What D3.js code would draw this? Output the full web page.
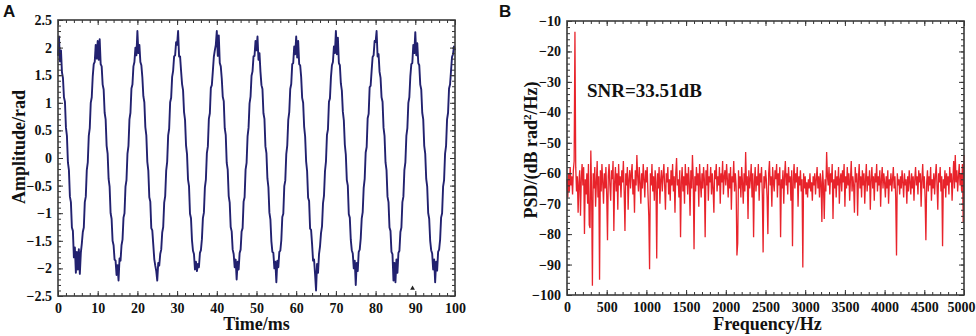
<!DOCTYPE html>
<html>
<head>
<meta charset="utf-8">
<script src="https://cdn.jsdelivr.net/npm/d3@7"></script>
<style>
    body { margin: 0; background: #fff; }
    svg text { font-family: "Liberation Serif", "Times New Roman", serif; font-weight: bold; fill: #111; }
    .panelLetter { font-family: "Liberation Sans", Arial, sans-serif; }
</style>
</head>
<body>
<div id="chart"></div>
<script>
// sample spacing of the two records
var timeStep = 0.25;   // ms
var freqStep = 10;     // Hz

// phase amplitude (rad), one value every 0.25 ms, 0..100 ms
var amplitude = [
    1.85, 2.20, 1.75, 1.95, 1.55, 1.45, 1.10, 1.02, 0.55, 0.40, -0.08, -0.22, -0.70, -0.80, -1.26, -1.32, -1.80, -1.62, -2.08, -1.70,
    -2.02, -1.65, -2.10, -1.72, -1.55, -1.34, -1.26, -0.80, -0.70, -0.22, -0.08, 0.40, 0.54, 1.00, 1.10, 1.48, 1.70, 1.74, 2.05, 1.80,
    2.12, 1.78, 2.15, 1.70, 1.66, 1.33, 1.24, 0.82, 0.70, 0.22, 0.08, -0.38, -0.52, -1.00, -1.10, -1.50, -1.58, -1.84, -1.86, -2.12,
    -1.94, -2.22, -1.82, -1.86, -1.58, -1.48, -1.08, -1.00, -0.52, -0.40, 0.08, 0.22, 0.70, 0.82, 1.26, 1.33, 1.66, 1.74, 2.00, 1.86,
    2.30, 1.90, 2.05, 1.74, 1.68, 1.46, 1.12, 1.01, 0.56, 0.41, -0.07, -0.23, -0.71, -0.79, -1.27, -1.31, -1.57, -1.83, -1.95, -2.05,
    -2.22, -1.90, -1.95, -1.74, -1.66, -1.35, -1.25, -0.81, -0.69, -0.23, -0.07, 0.41, 0.53, 1.01, 1.09, 1.47, 1.58, 1.84, 1.86, 2.10,
    2.05, 2.30, 1.84, 1.84, 1.58, 1.34, 1.23, 0.83, 0.69, 0.23, 0.07, -0.39, -0.51, -1.01, -1.09, -1.49, -1.68, -1.74, -2.02, -1.88,
    -2.05, -1.92, -1.98, -1.72, -1.67, -1.47, -1.09, -0.99, -0.53, -0.39, 0.09, 0.21, 0.71, 0.81, 1.27, 1.32, 1.57, 1.83, 1.95, 2.05,
    2.30, 1.85, 2.22, 1.72, 1.66, 1.44, 1.11, 1.03, 0.54, 0.42, -0.09, -0.21, -0.69, -0.81, -1.25, -1.33, -1.66, -1.74, -1.98, -1.84,
    -2.20, -1.88, -2.02, -1.72, -1.66, -1.33, -1.27, -0.79, -0.71, -0.21, -0.09, 0.39, 0.55, 0.99, 1.11, 1.49, 1.57, 1.84, 1.85, 2.12,
    1.95, 2.20, 1.78, 1.90, 1.56, 1.32, 1.25, 0.81, 0.71, 0.21, 0.09, -0.37, -0.53, -0.99, -1.11, -1.51, -1.70, -1.72, -2.00, -1.88,
    -2.25, -1.86, -1.98, -1.70, -1.68, -1.49, -1.07, -1.01, -0.51, -0.41, 0.07, 0.23, 0.69, 0.83, 1.25, 1.34, 1.70, 1.72, 2.02, 1.88,
    2.20, 1.82, 2.12, 1.70, 1.68, 1.47, 1.09, 1.00, 0.57, 0.39, -0.06, -0.24, -0.72, -0.78, -1.28, -1.30, -1.56, -1.86, -1.84, -2.10,
    -2.40, -1.92, -2.08, -1.74, -1.60, -1.36, -1.24, -0.82, -0.68, -0.24, -0.06, 0.42, 0.52, 1.02, 1.08, 1.46, 1.68, 1.74, 2.02, 1.90,
    2.30, 1.88, 2.18, 1.72, 1.68, 1.35, 1.22, 0.84, 0.68, 0.24, 0.06, -0.40, -0.50, -1.02, -1.08, -1.48, -1.67, -1.73, -2.00, -1.86,
    -2.30, -1.90, -2.05, -1.70, -1.66, -1.46, -1.10, -0.98, -0.54, -0.38, 0.10, 0.20, 0.72, 0.80, 1.28, 1.31, 1.58, 1.83, 1.86, 2.12,
    2.10, 2.30, 1.84, 1.88, 1.56, 1.45, 1.10, 1.02, 0.55, 0.40, -0.08, -0.22, -0.70, -0.80, -1.26, -1.32, -1.70, -1.74, -2.22, -1.90,
    -2.25, -1.84, -2.08, -1.72, -1.68, -1.34, -1.26, -0.80, -0.70, -0.22, -0.08, 0.40, 0.54, 1.00, 1.10, 1.48, 1.70, 1.72, 2.05, 1.90,
    2.28, 1.86, 2.08, 1.72, 1.68, 1.33, 1.24, 0.82, 0.70, 0.22, 0.08, -0.38, -0.52, -1.00, -1.10, -1.50, -1.67, -1.73, -2.02, -1.84,
    -2.25, -1.88, -2.04, -1.70, -1.66, -1.48, -1.08, -1.00, -0.52, -0.40, 0.08, 0.22, 0.70, 0.82, 1.26, 1.33, 1.58, 1.83, 1.88, 2.02,
    1.95
];

// power spectral density (dB rad^2/Hz), one value every 10 Hz, 0..5000 Hz
var psd = [
    -62, -68, -60, -66, -58, -64, -61, -67, -59, -56, -13.5, -58, -66, -61, -73, -63, -59, -74, -62, -57,
    -64, -58, -80, -62, -67, -60, -70, -57, -77, -78, -52.5, -66, -97, -60, -65, -58, -71, -63, -56, -68,
    -61, -95, -59, -66, -57, -63, -70, -60, -65, -58, -67, -82, -61, -57, -64, -69, -59, -62, -56, -79,
    -63, -58, -66, -60, -72, -57, -64, -61, -68, -59, -63, -56, -66, -79, -60, -64, -58, -72, -62, -59,
    -65, -60, -57, -67, -62, -73, -59, -64, -54, -61, -66, -58, -63, -70, -60, -65, -57, -62, -68, -59,
    -63, -58, -67, -74, -91.5, -60, -64, -57, -66, -61, -69, -59, -63, -88, -60, -65, -58, -70, -62, -59,
    -66, -61, -57, -64, -72, -60, -63, -58, -67, -62, -69, -59, -64, -57, -66, -61, -73, -60, -55, -64,
    -62, -68, -59, -81, -63, -58, -66, -61, -70, -57, -64, -60, -67, -58, -63, -74, -59, -65, -54, -62,
    -85, -61, -66, -58, -64, -60, -71, -57, -63, -68, -60, -65, -58, -62, -81, -59, -64, -57, -69, -61,
    -63, -58, -67, -60, -65, -73, -59, -62, -57, -66, -61, -64, -58, -70, -60, -63, -56, -67, -61, -59,
    -64, -57, -62, -68, -60, -65, -58, -72, -61, -63, -56, -66, -60, -64, -87, -83, -59, -65, -61, -68,
    -58, -63, -70, -60, -66, -53, -64, -61, -75, -59, -65, -62, -57, -68, -60, -81, -63, -58, -66, -61,
    -64, -57, -69, -60, -63, -58, -67, -86, -61, -65, -59, -62, -68, -80, -60, -56, -64, -61, -71, -58,
    -63, -66, -59, -62, -57, -68, -60, -64, -58, -81, -62, -65, -59, -70, -61, -56, -64, -60, -67, -58,
    -63, -61, -69, -59, -84, -62, -57, -65, -60, -63, -58, -71, -61, -64, -59, -66, -62, -91, -60, -65,
    -61, -67, -63, -68, -62, -65, -60, -66, -63, -69, -61, -64, -60, -67, -62, -58, -65, -61, -68, -60,
    -63, -76, -59, -64, -75, -62, -66, -53, -61, -64, -58, -67, -60, -63, -57, -75, -62, -65, -59, -68,
    -61, -64, -58, -70, -62, -60, -66, -59, -63, -57, -71, -61, -65, -58, -64, -60, -69, -62, -56, -66,
    -61, -64, -73, -58, -63, -60, -74, -62, -57, -65, -61, -68, -59, -64, -60, -70, -62, -57, -66, -61,
    -64, -59, -72, -62, -58, -65, -61, -69, -60, -63, -57, -66, -61, -64, -59, -71, -62, -58, -65, -60,
    -63, -68, -61, -65, -59, -70, -62, -64, -60, -66, -62, -58, -65, -61, -68, -87, -60, -64, -62, -67,
    -61, -65, -59, -63, -68, -60, -64, -62, -70, -61, -66, -59, -63, -67, -60, -65, -61, -69, -62, -58,
    -64, -61, -67, -59, -63, -60, -71, -62, -57, -65, -61, -68, -82, -63, -59, -66, -61, -64, -58, -69,
    -62, -65, -60, -67, -61, -57, -64, -72, -60, -63, -58, -66, -61, -84, -62, -65, -59, -68, -60, -64,
    -61, -67, -58, -63, -60, -69, -62, -56, -65, -54, -63, -59, -66, -61, -57, -64, -60, -66, -57, -76,
    -54
];

// tick values
var timeTicks = [0, 10, 20, 30, 40, 50, 60, 70, 80, 90, 100];
var ampTicks = [-2.5, -2, -1.5, -1, -0.5, 0, 0.5, 1, 1.5, 2, 2.5];
var freqTicks = [0, 500, 1000, 1500, 2000, 2500, 3000, 3500, 4000, 4500, 5000];
var psdTicks = [-100, -90, -80, -70, -60, -50, -40, -30, -20, -10];

// small marker sitting near the bottom of panel A
var markerA = [{ t: 89.3, v: -2.36 }];

var svg = d3.select("#chart")
    .append("svg")
    .attr("width", 976)
    .attr("height", 336);

// draws a boxed frame with inward ticks on all four sides, returns the bottom axis group
function drawFrame(g, x, y, w, h, major, minor, yMajor, yMinor, xFmt, yFmt) {
    var xAxis = d3.axisBottom(x).tickValues(major).tickSize(-5).tickPadding(7).tickFormat(xFmt);
    var yAxis = d3.axisLeft(y).tickValues(yMajor).tickSize(-5).tickPadding(6).tickFormat(yFmt);

    var xg = g.append("g").attr("transform", "translate(0," + h + ")").call(xAxis);
    g.append("g").attr("transform", "translate(0," + h + ")")
        .call(d3.axisBottom(x).tickValues(minor).tickSize(-3).tickFormat(""));
    g.append("g").call(d3.axisTop(x).tickValues(major).tickSize(-5).tickFormat(""));
    g.append("g").call(d3.axisTop(x).tickValues(minor).tickSize(-3).tickFormat(""));

    g.append("g").call(yAxis);
    g.append("g").call(d3.axisLeft(y).tickValues(yMinor).tickSize(-3).tickFormat(""));
    g.append("g").attr("transform", "translate(" + w + ",0)")
        .call(d3.axisRight(y).tickValues(yMajor).tickSize(-5).tickFormat(""));
    g.append("g").attr("transform", "translate(" + w + ",0)")
        .call(d3.axisRight(y).tickValues(yMinor).tickSize(-3).tickFormat(""));

    g.selectAll(".domain").remove();
    g.selectAll(".tick line").attr("stroke", "#333").attr("stroke-width", 1);
    g.selectAll(".tick text")
        .style("font-family", "'Liberation Serif', 'Times New Roman', serif")
        .style("font-weight", "bold")
        .style("font-size", "14px")
        .attr("fill", "#111");

    g.append("rect")
        .attr("width", w)
        .attr("height", h)
        .attr("fill", "none")
        .attr("stroke", "#3a3a3a")
        .attr("stroke-width", 1.6);
    return xg;
}

// ---------- panel A : time trace ----------
var wA = 397, hA = 276;
var gA = svg.append("g").attr("transform", "translate(58,20)");

var xA = d3.scaleLinear().domain([0, 100]).range([0, wA]);
var yA = d3.scaleLinear().domain([-2.5, 2.5]).range([hA, 0]);

gA.append("path")
    .datum(amplitude)
    .attr("fill", "none")
    .attr("stroke", "#22216f")
    .attr("stroke-width", 1.9)
    .attr("stroke-linejoin", "round")
    .attr("d", d3.line()
        .x(function (d, i) { return xA(i * timeStep); })
        .y(function (d) { return yA(d); }));

gA.selectAll(".marker")
    .data(markerA)
    .enter()
    .append("path")
    .attr("class", "marker")
    .attr("transform", function (d) { return "translate(" + xA(d.t) + "," + yA(d.v) + ")"; })
    .attr("d", d3.symbol().type(d3.symbolTriangle).size(10))
    .attr("fill", "#222");

drawFrame(gA, xA, yA, wA, hA,
    timeTicks, d3.range(0, 101, 2),
    ampTicks, d3.range(-25, 26, 1).map(function (d) { return d / 10; }),
    d3.format("d"), function (d) { return d3.format("")(d); });

gA.append("text")
    .attr("x", wA / 2)
    .attr("y", hA + 34)
    .style("text-anchor", "middle")
    .style("font-size", "18px")
    .text("Time/ms");

gA.append("text")
    .attr("transform", "rotate(-90)")
    .attr("x", -(hA / 2) + 11)
    .attr("y", -33)
    .style("text-anchor", "middle")
    .style("font-size", "18px")
    .text("Amplitude/rad");

svg.append("text")
    .attr("class", "panelLetter")
    .attr("x", 3)
    .attr("y", 17)
    .style("font-size", "17px")
    .text("A");

// ---------- panel B : spectrum ----------
var wB = 397, hB = 274;
var gB = svg.append("g").attr("transform", "translate(567,21)");

var xB = d3.scaleLinear().domain([0, 5000]).range([0, wB]);
var yB = d3.scaleLinear().domain([-100, -10]).range([hB, 0]);

gB.append("path")
    .datum(psd)
    .attr("fill", "none")
    .attr("stroke", "#e8232b")
    .attr("stroke-width", 1.3)
    .attr("d", d3.line()
        .x(function (d, i) { return xB(i * freqStep); })
        .y(function (d) { return yB(d); }));

var xgB = drawFrame(gB, xB, yB, wB, hB,
    freqTicks, d3.range(0, 5001, 100),
    psdTicks, d3.range(-100, -9, 2),
    d3.format("d"), d3.format("d"));

// keep the last frequency label inside the page
xgB.selectAll(".tick text")
    .filter(function (d) { return d === 5000; })
    .attr("dx", -3);

gB.append("text")
    .attr("x", 20)
    .attr("y", 76)
    .style("font-size", "19px")
    .text("SNR=33.51dB");

gB.append("text")
    .attr("x", wB / 2 + 2)
    .attr("y", hB + 35)
    .style("text-anchor", "middle")
    .style("font-size", "18px")
    .text("Frequency/Hz");

var yTitleB = gB.append("text")
    .attr("transform", "rotate(-90)")
    .attr("x", -(hB / 2) + 8)
    .attr("y", -30)
    .style("text-anchor", "middle")
    .style("font-size", "18px");
yTitleB.append("tspan").text("PSD/(dB rad");
yTitleB.append("tspan").attr("dy", -6).style("font-size", "11px").text("2");
yTitleB.append("tspan").attr("dy", 6).text("/Hz)");

svg.append("text")
    .attr("class", "panelLetter")
    .attr("x", 499)
    .attr("y", 17)
    .style("font-size", "17px")
    .text("B");
</script>
</body>
</html>
